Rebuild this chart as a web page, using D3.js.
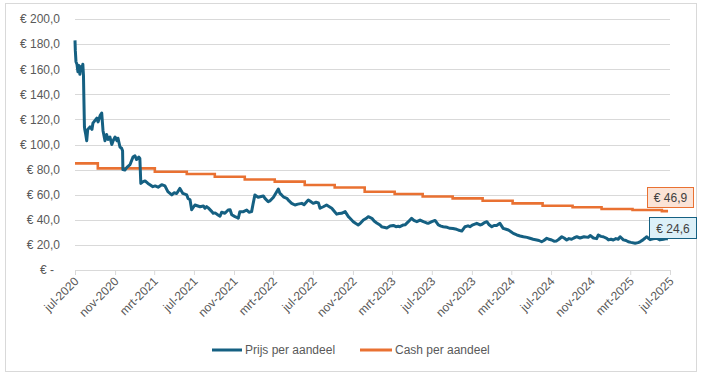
<!DOCTYPE html>
<html>
<head>
<meta charset="utf-8">
<script src="https://cdn.jsdelivr.net/npm/d3@7"></script>
<style>
  body { margin: 0; background: #fff; }
  text { font-family: "Liberation Sans", Arial, sans-serif; }
  .tick-label { font-size: 12px; fill: #595959; }
  .legend-label { font-size: 12px; fill: #595959; }
</style>
</head>
<body>
<svg id="chart" width="703" height="378"></svg>
<script>
// Prijs per aandeel
const priceDates = [
  "2020-07-01","2020-07-02","2020-07-04","2020-07-07","2020-07-10","2020-07-13","2020-07-16","2020-07-19","2020-07-22","2020-07-25",
  "2020-07-27","2020-07-28","2020-07-30","2020-07-31","2020-08-03","2020-08-06","2020-08-09","2020-08-16","2020-08-22","2020-08-25",
  "2020-08-31","2020-09-06","2020-09-10","2020-09-16","2020-09-21","2020-09-23","2020-09-25","2020-10-01","2020-10-06","2020-10-10",
  "2020-10-16","2020-10-22","2020-10-26","2020-11-01","2020-11-07","2020-11-10","2020-11-16","2020-11-21","2020-11-24","2020-11-25",
  "2020-12-01","2020-12-08","2020-12-17","2020-12-26","2021-01-01","2021-01-06","2021-01-13","2021-01-16","2021-01-19","2021-01-26",
  "2021-02-01","2021-02-10","2021-02-16","2021-02-25","2021-03-04","2021-03-13","2021-03-24","2021-04-03","2021-04-12","2021-04-24",
  "2021-05-01","2021-05-09","2021-05-19","2021-05-28","2021-06-09","2021-06-13","2021-06-19","2021-06-24","2021-07-04","2021-07-20",
  "2021-07-30","2021-08-04","2021-08-09","2021-08-14","2021-08-25","2021-08-29","2021-09-04","2021-09-13","2021-09-19","2021-09-24",
  "2021-10-04","2021-10-14","2021-10-20","2021-10-25","2021-11-04","2021-11-09","2021-11-14","2021-11-19","2021-11-30","2021-12-10",
  "2021-12-17","2021-12-25","2021-12-29","2022-01-04","2022-01-14","2022-01-20","2022-01-30","2022-02-04","2022-02-14","2022-02-19",
  "2022-03-02","2022-03-12","2022-03-17","2022-03-22","2022-03-27","2022-04-03","2022-04-12","2022-04-19","2022-04-27","2022-05-07",
  "2022-05-16","2022-05-28","2022-06-04","2022-06-12","2022-06-17","2022-06-22","2022-07-02","2022-07-11","2022-07-18","2022-07-23",
  "2022-08-02","2022-08-12","2022-08-23","2022-08-28","2022-09-04","2022-09-12","2022-09-19","2022-09-27","2022-10-08","2022-10-18",
  "2022-10-23","2022-11-02","2022-11-10","2022-11-17","2022-11-23","2022-12-03","2022-12-11","2022-12-18","2022-12-29","2023-01-05",
  "2023-01-13","2023-01-23","2023-01-28","2023-02-04","2023-02-13","2023-02-23","2023-03-05","2023-03-13","2023-03-20","2023-03-25",
  "2023-04-05","2023-04-10","2023-04-20","2023-04-30","2023-05-07","2023-05-16","2023-05-26","2023-06-05","2023-06-15","2023-06-20",
  "2023-07-01","2023-07-11","2023-07-21","2023-07-29","2023-08-05","2023-08-17","2023-08-26","2023-09-04","2023-09-15","2023-09-20",
  "2023-10-01","2023-10-11","2023-10-20","2023-10-26","2023-11-04","2023-11-16","2023-11-26","2023-12-01","2023-12-08","2023-12-17",
  "2023-12-24","2024-01-01","2024-01-08","2024-01-16","2024-01-26","2024-02-05","2024-02-14","2024-02-21","2024-02-29","2024-03-07",
  "2024-03-18","2024-03-28","2024-04-07","2024-04-18","2024-04-27","2024-05-07","2024-05-18","2024-05-25","2024-06-02","2024-06-09",
  "2024-06-18","2024-06-25","2024-07-03","2024-07-10","2024-07-18","2024-07-25","2024-08-03","2024-08-10","2024-08-18","2024-08-25",
  "2024-09-02","2024-09-09","2024-09-18","2024-09-28","2024-10-10","2024-10-23","2024-10-29","2024-11-08","2024-11-18","2024-11-23",
  "2024-12-01","2024-12-08","2024-12-19","2024-12-24","2025-01-01","2025-01-08","2025-01-16","2025-01-23","2025-01-29","2025-02-08",
  "2025-02-16","2025-02-23","2025-03-03","2025-03-16","2025-03-25","2025-03-31","2025-04-09","2025-04-15","2025-04-20","2025-05-01",
  "2025-05-10","2025-05-21","2025-05-31","2025-06-11","2025-06-21","2025-06-25"
];
const priceValues = [
  183, 175, 166, 164, 158, 163, 156, 162, 160, 164,
  155, 140, 114, 112, 108, 103, 112, 114, 112, 117,
  119, 121, 118, 123, 125, 118, 111, 103, 108, 104,
  106, 100, 103, 106, 103, 105, 98, 97, 95, 80,
  79.7, 82, 84, 90, 91, 88, 90, 89, 69, 70.4,
  71, 69, 68, 66.4, 67, 66, 68, 67, 62.4, 59.8,
  61.5, 61, 65, 61, 59.8, 57, 56, 48, 51.8, 50.4,
  51, 49.2, 50.5, 49.5, 46.5, 45.2, 45.5, 43.8, 42.8, 46,
  45.2, 47.8, 48, 44, 42.5, 42, 41.2, 46.5, 46.5, 47.8,
  46, 46.5, 52, 59.8, 58, 58.4, 59, 57.1, 54.4, 55,
  58, 62.4, 64.5, 61, 59.8, 58, 57.1, 55, 53.1, 51.8,
  52.5, 53.1, 52, 54.4, 55.8, 55, 53.1, 54, 53.5, 49.2,
  50.4, 51.8, 50, 49.2, 47, 44.5, 45, 45.2, 46.5, 42.5,
  41.2, 38.5, 37, 35.9, 37, 39.8, 41, 42.5, 41.2, 39,
  37.5, 35.9, 34.5, 34, 33.5, 35, 35.5, 34.5, 34.8, 34.5,
  35.9, 36, 38.5, 41.2, 39.5, 38.5, 39.8, 38.5, 37.5, 37.2,
  38.5, 39.5, 35.9, 35, 34.5, 34, 33.2, 33, 32.4, 31.9,
  31, 34.5, 35.2, 34.5, 36, 37.2, 35.9, 36.2, 37.5, 38.5,
  36, 34.5, 35.5, 35.5, 37.2, 33.2, 32.5, 31.9, 30.5, 29.2,
  27.9, 27.1, 26.5, 26, 25.3, 24.5, 23.9, 23.5, 22.5, 23.5,
  25.3, 24.5, 23.9, 23, 23.2, 24.5, 26.5, 25.5, 23.9, 25,
  24.5, 25.5, 26.5, 25.5, 26.5, 26, 27.5, 25.5, 25, 27.9,
  26.8, 26.5, 25.2, 24, 24.5, 23.9, 25, 24.5, 26.5, 24,
  23.5, 22.5, 22, 21.3, 21.8, 22.5, 24, 25.3, 26.5, 24.2,
  24.8, 25.3, 24, 24.5, 25, 24.6
];

// Cash per aandeel (quarterly steps)
const cashDates = [
  "2020-07-01","2020-09-09","2021-03-03","2021-06-09","2021-09-03","2021-12-04","2022-03-06","2022-06-06",
  "2022-09-06","2022-12-07","2023-03-09","2023-06-03","2023-09-03","2023-12-04","2024-03-05","2024-06-05",
  "2024-09-05","2024-12-03","2025-03-08","2025-06-06","2025-06-25"
];
const cashValues = [
  85.0, 81.0, 78.3, 76.5, 74.3, 72.1, 70.4, 67.7,
  65.7, 62.4, 60.6, 58.6, 57.1, 55.2, 53.1, 51.2,
  50.0, 48.6, 47.8, 46.9, 46.9
];

const yTickValues = [0, 20, 40, 60, 80, 100, 120, 140, 160, 180, 200];
const xTickDates = [
  "2020-07-01","2020-11-01","2021-03-01","2021-07-01","2021-11-01","2022-03-01","2022-07-01","2022-11-01",
  "2023-03-01","2023-07-01","2023-11-01","2024-03-01","2024-07-01","2024-11-01","2025-03-01","2025-07-01"
];
const monthNames = ["jan","feb","mrt","apr","mei","jun","jul","aug","sep","okt","nov","dec"];
const seriesNames = ["Prijs per aandeel", "Cash per aandeel"];
const seriesColors = ["#156082", "#e97132"];

const parse = d3.timeParse("%Y-%m-%d");
const price = priceDates.map((d, i) => ({date: parse(d), value: priceValues[i]}));
const cash = cashDates.map((d, i) => ({date: parse(d), value: cashValues[i]}));

const margin = {top: 19, right: 33, bottom: 108, left: 75},
    width = 703 - margin.left - margin.right,
    height = 378 - margin.top - margin.bottom;

const svg = d3.select("#chart");

// chart frame
svg.append("rect")
    .attr("x", 5.5).attr("y", 3.5)
    .attr("width", 691).attr("height", 368)
    .attr("fill", "#fff")
    .attr("stroke", "#d9d9d9");

const g = svg.append("g")
    .attr("transform", `translate(${margin.left},${margin.top})`);

const x = d3.scaleTime()
    .domain([parse("2020-07-01"), parse("2025-07-01")])
    .range([0, width]);

const y = d3.scaleLinear()
    .domain([0, 200])
    .range([height, 0]);

// gridlines
g.append("g")
    .selectAll("line")
    .data(yTickValues)
    .join("line")
    .attr("x1", 0).attr("x2", width)
    .attr("y1", d => Math.round(y(d)) + 0.5)
    .attr("y2", d => Math.round(y(d)) + 0.5)
    .attr("stroke", "#d9d9d9");

// Y axis labels
const yAxis = g.append("g")
    .call(d3.axisLeft(y).tickValues(yTickValues).tickSize(0).tickPadding(15)
      .tickFormat(d => d === 0 ? "€ -" : "€ " + d3.format(".1f")(d).replace(".", ",")));
yAxis.select(".domain").remove();
yAxis.selectAll("text")
    .attr("class", "tick-label")
    .attr("dx", d => d === 0 ? -6 : 0);

// X axis
const xAxis = g.append("g")
    .attr("transform", `translate(0,${height})`)
    .call(d3.axisBottom(x).tickValues(xTickDates.map(parse)).tickSizeInner(5).tickSizeOuter(0)
      .tickFormat(d => monthNames[d.getMonth()] + "-" + d.getFullYear()));
xAxis.select(".domain").attr("stroke", "#d9d9d9");
xAxis.selectAll(".tick line").attr("stroke", "#d9d9d9");
xAxis.selectAll("text")
    .attr("class", "tick-label")
    .attr("text-anchor", "end")
    .attr("dy", 0)
    .attr("transform", "translate(4,12) rotate(-45)")
    .attr("x", 0).attr("y", 0);

// lines
const line = d3.line()
    .x(d => x(d.date))
    .y(d => y(d.value));

g.append("path")
    .datum(cash)
    .attr("fill", "none")
    .attr("stroke", seriesColors[1])
    .attr("stroke-width", 2.6)
    .attr("d", line.curve(d3.curveStepAfter));

g.append("path")
    .datum(price)
    .attr("fill", "none")
    .attr("stroke", seriesColors[0])
    .attr("stroke-width", 3)
    .attr("stroke-linejoin", "round")
    .attr("d", d3.line().x(d => x(d.date)).y(d => y(d.value)));

// data labels at last points
const lastCash = cash[cash.length - 1];
const lastPrice = price[price.length - 1];
const callouts = [
  {d: lastCash, dx: -21, dy: -24, w: 46, h: 20, fill: "#fbe3d6", stroke: "#e97132"},
  {d: lastPrice, dx: -19, dy: -22, w: 47, h: 21, fill: "#dcf0f8", stroke: "#156082"}
];
callouts.forEach(c => {
  const cx = x(c.d.date) + c.dx, cy = y(c.d.value) + c.dy;
  g.append("rect")
      .attr("x", Math.round(cx) + 0.5).attr("y", Math.round(cy) + 0.5)
      .attr("width", c.w).attr("height", c.h)
      .attr("fill", c.fill)
      .attr("stroke", c.stroke)
      .attr("stroke-width", 1);
  g.append("text")
      .attr("x", Math.round(cx) + c.w / 2 + 0.5)
      .attr("y", Math.round(cy) + c.h / 2 + 5)
      .attr("text-anchor", "middle")
      .attr("font-size", 12)
      .attr("fill", "#404040")
      .text("€ " + d3.format(".1f")(c.d.value).replace(".", ","));
});

// legend
const legendItems = [{x: 212, w: 30}, {x: 360, w: 32}];
const legend = svg.append("g");
legendItems.forEach((l, i) => {
  legend.append("line")
      .attr("x1", l.x).attr("x2", l.x + l.w)
      .attr("y1", 350).attr("y2", 350)
      .attr("stroke", seriesColors[i])
      .attr("stroke-width", 3);
  legend.append("text")
      .attr("class", "legend-label")
      .attr("x", l.x + l.w + 3)
      .attr("y", 354)
      .text(seriesNames[i]);
});
</script>
</body>
</html>
